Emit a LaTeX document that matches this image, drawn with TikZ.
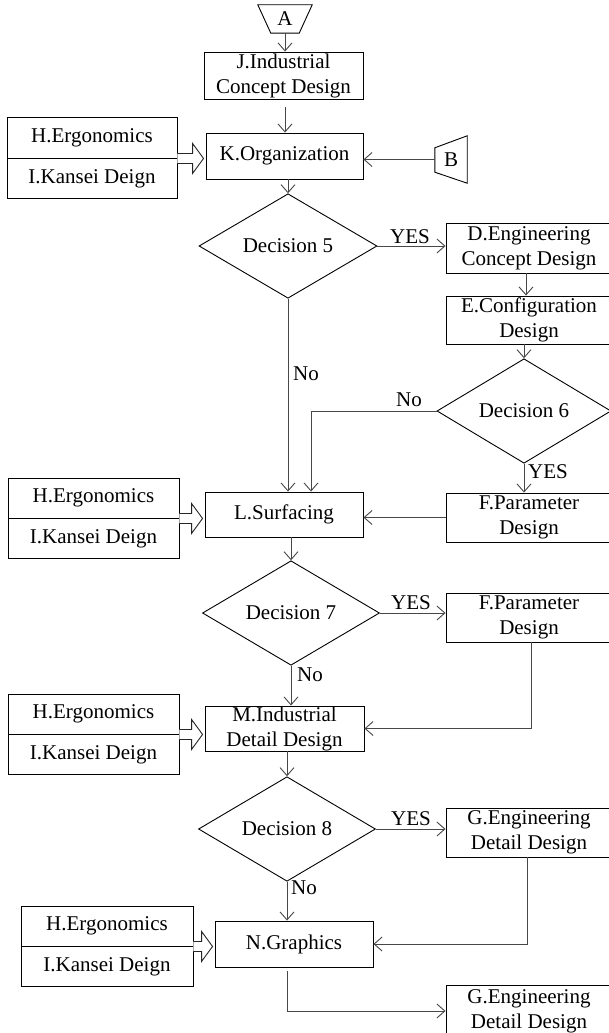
\documentclass[tikz,border=0pt]{standalone}
\usepackage{fontspec}
\setmainfont{Liberation Serif}
\usetikzlibrary{shapes.geometric,arrows.meta,calc}
\newcommand\diagfont{\fontsize{21}{25}\selectfont}

\begin{document}
\begin{tikzpicture}[x=1pt,y=-1pt,
  every node/.style={font=\diagfont},
  box/.style={draw=black, line width=0.9pt, rectangle, inner sep=0pt, align=center},
  dec/.style={draw=black, line width=0.9pt, diamond, inner sep=0pt},
  plain/.style={inner sep=0pt},
  conn/.style={draw=black!72, line width=0.9pt},
  arr/.style={conn, -{Straight Barb[length=8pt,width=14pt]}},
  fat/.style={draw=black!85, line width=0.9pt, fill=white},
  lab/.style={inner sep=0pt}
]
\useasboundingbox (0,0) rectangle (608,1033);

% off-page connectors
\node[plain, minimum width=54pt, minimum height=28pt] (a) at (285,19) {A};
\draw[line width=0.9pt] (a.north west) -- (a.north east) -- ([xshift=-13pt]a.south east)
  -- ([xshift=13pt]a.south west) -- cycle;
\node[plain, minimum width=32pt, minimum height=47pt] (b) at (451,159.5) {B};
\draw[line width=0.9pt] (b.north east) -- (b.south east) -- ([yshift=11pt]b.south west)
  -- ([yshift=-12pt]b.north west) -- cycle;

% main column
\node[box, minimum width=159pt, minimum height=47pt] (j) at (283.5,75.5) {J.Industrial\\Concept Design};
\node[box, minimum width=157pt, minimum height=46pt] (k) at (284.5,156) {K.Organization};
\node[dec, minimum width=178pt, minimum height=84pt] (d5) at (288,246) {Decision 5};
\node[box, minimum width=158pt, minimum height=45pt] (l) at (284,514.5) {L.Surfacing};
\node[dec, minimum width=177pt, minimum height=86pt] (d7) at (291,613) {Decision 7};
\node[box, minimum width=159pt, minimum height=45pt] (m) at (284.5,728.5) {M.Industrial\\Detail Design};
\node[dec, minimum width=177pt, minimum height=85pt] (d8) at (287,829) {Decision 8};
\node[box, minimum width=158pt, minimum height=46pt] (n) at (294,944) {N.Graphics};

% right column
\node[box, minimum width=166pt, minimum height=50pt] (d) at (529,248) {D.Engineering\\Concept Design};
\node[box, minimum width=166pt, minimum height=48pt] (e) at (529,320) {E.Configuration\\Design};
\node[dec, minimum width=174pt, minimum height=85pt] (d6) at (524,411) {Decision 6};
\node[box, minimum width=166pt, minimum height=49pt] (f1) at (529,517.5) {F.Parameter\\Design};
\node[box, minimum width=166pt, minimum height=49pt] (f2) at (529,617.5) {F.Parameter\\Design};
\node[box, minimum width=166pt, minimum height=49pt] (g1) at (529,832.5) {G.Engineering\\Detail Design};
\node[box, minimum width=166pt, minimum height=52pt] (g2) at (529,1011) {G.Engineering\\Detail Design};

% ergonomics / kansei input boxes
\node[box, minimum width=170pt, minimum height=41pt] (h1) at (92,137.5) {H.Ergonomics};
\node[box, minimum width=170pt, minimum height=40pt, anchor=north] (i1) at (h1.south) {I.Kansei Deign};
\node[box, minimum width=171pt, minimum height=40pt] (h2) at (93.5,498) {H.Ergonomics};
\node[box, minimum width=171pt, minimum height=40pt, anchor=north] (i2) at (h2.south) {I.Kansei Deign};
\node[box, minimum width=171pt, minimum height=40pt] (h3) at (93.5,714) {H.Ergonomics};
\node[box, minimum width=171pt, minimum height=40pt, anchor=north] (i3) at (h3.south) {I.Kansei Deign};
\node[box, minimum width=172pt, minimum height=40pt] (h4) at (107,926) {H.Ergonomics};
\node[box, minimum width=172pt, minimum height=40pt, anchor=north] (i4) at (h4.south) {I.Kansei Deign};

% hollow input arrows
\foreach \src/\dst in {h1/k, h2/l, h3/m, h4/n}{
  \draw[fat] let \p1=(\src.south east), \p2=(\dst.west) in
    (\x1,\y1+5pt) -- (\x2-13pt,\y1+5pt) -- (\x2-13pt,\y1+15pt) -- (\x2-2pt,\y1)
    -- (\x2-13pt,\y1-15pt) -- (\x2-13pt,\y1-5pt) -- (\x1,\y1-5pt);
}

% connectors
\draw[arr] (a.south) -- (a.south |- j.north);
\draw[arr] ([yshift=-8pt]a.south |- j.south) -- (a.south |- k.north);
\draw[arr] (b.west) -- (b.west -| k.east);
\draw[arr] (d5.north |- k.south) -- (d5.north);
\draw[arr] (d5.east) -- (d5.east -| d.west);
\draw[arr] ([xshift=-3pt]d.south) -- ([xshift=-3pt]d.south |- e.north);
\draw[arr] (d6.north |- e.south) -- (d6.north);
\draw[arr] (d6.south) -- (d6.south |- f1.north);
\coordinate (c6) at (311,0);
\draw[arr] (d6.west) -| (c6 |- l.north);
\draw[arr] (d5.south) -- (d5.south |- l.north);
\draw[arr] (f1.west) -- (f1.west -| l.east);
\draw[arr] (d7.north |- l.south) -- (d7.north);
\draw[arr] (d7.east) -- (d7.east -| f2.west);
\draw[arr] (d7.south) -- (d7.south |- m.north);
\draw[arr] ([xshift=2pt]f2.south) |- (m.east);
\draw[arr] (d8.north |- m.south) -- (d8.north);
\draw[arr] (d8.east) -- (d8.east -| g1.west);
\draw[arr] (d8.south) -- (d8.south |- n.north);
\draw[arr] ([xshift=-2pt]g1.south) |- (n.east);
\draw[arr] ([yshift=-4pt]d8.south |- n.south) |- (g2.west);

% branch labels
\node[lab] (y5) at (410,237) {YES};
\node[lab] (n5) at (306,374) {No};
\node[lab] (n6) at (409,400) {No};
\node[lab] (y6) at (548,472) {YES};
\node[lab] (y7) at (411,603) {YES};
\node[lab] (n7) at (310,675) {No};
\node[lab] (y8) at (411,819) {YES};
\node[lab] (n8) at (304,888) {No};
\end{tikzpicture}
\end{document}
